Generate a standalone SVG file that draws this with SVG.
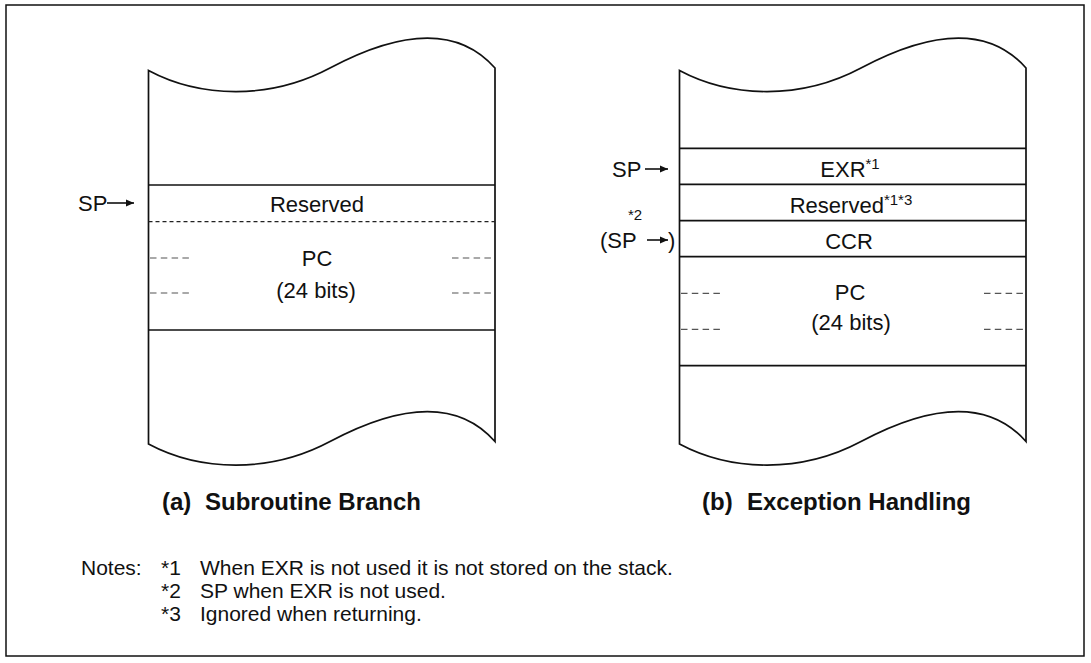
<svg xmlns="http://www.w3.org/2000/svg" width="1091" height="663" viewBox="0 0 1091 663">
<defs>
<style>
.ln{fill:none;stroke:#111;stroke-width:1.7}
.dl{fill:none;stroke:#222;stroke-width:1.2;stroke-dasharray:4 3}
.sd{fill:none;stroke:#555;stroke-width:1.2;stroke-dasharray:6.5 4.3}
.t{font-family:"Liberation Sans",Arial,sans-serif;font-size:22px;fill:#111}
.n{font-family:"Liberation Sans",Arial,sans-serif;font-size:21px;fill:#111}
.c{text-anchor:middle}
.sup{font-size:15px}
.cap{font-family:"Liberation Sans",Arial,sans-serif;font-size:24px;font-weight:bold;fill:#111}
.ar{fill:none;stroke:#111;stroke-width:1.6}
</style>
<marker id="ah" markerUnits="userSpaceOnUse" markerWidth="9" markerHeight="8" refX="8" refY="4" orient="auto">
<path d="M0,0.5 L8,4 L0,7.5 Z" fill="#111"/>
</marker>
<path id="column" d="M148.5,70.5 C200,98 270,100 330,68 C380,41.3 450,17 495,68 L495,441.5 C450,390.5 380,414.8 330,441.5 C270,473.5 200,471.5 148.5,444 Z"/>
</defs>
<rect x="6" y="5" width="1078" height="651" fill="#fff" stroke="#111" stroke-width="1.5"/>

<g id="stack-a">
<use href="#column" class="ln"/>
<line class="ln" x1="148.5" y1="185" x2="495" y2="185"/>
<line class="dl" x1="148.5" y1="221.7" x2="495" y2="221.7"/>
<line class="ln" x1="148.5" y1="330" x2="495" y2="330"/>
<g id="a-reserved"><text class="t c" x="317" y="212">Reserved</text></g>
<g id="a-pc">
<text class="t c" x="317" y="266">PC</text>
<text class="t c" x="316" y="298">(24 bits)</text>
<line class="sd" x1="150" y1="258" x2="189" y2="258"/>
<line class="sd" x1="150" y1="293" x2="189" y2="293"/>
<line class="sd" x1="452" y1="258" x2="491" y2="258"/>
<line class="sd" x1="452" y1="293" x2="491" y2="293"/>
</g>
<g id="a-sp"><text class="t" x="78" y="211">SP</text></g>
<g id="cap-a"><text class="cap" x="162" y="510">(a)</text><text class="cap" x="205" y="510">Subroutine Branch</text></g>
</g>

<g id="stack-b">
<use href="#column" class="ln" transform="translate(531,0)"/>
<line class="ln" x1="679.5" y1="148.3" x2="1026" y2="148.3"/>
<line class="ln" x1="679.5" y1="184.3" x2="1026" y2="184.3"/>
<line class="ln" x1="679.5" y1="220.7" x2="1026" y2="220.7"/>
<line class="ln" x1="679.5" y1="256.7" x2="1026" y2="256.7"/>
<line class="ln" x1="679.5" y1="365.7" x2="1026" y2="365.7"/>
<g id="b-exr"><text class="t c" x="850" y="177">EXR<tspan class="sup" dy="-8">*1</tspan></text></g>
<g id="b-reserved"><text class="t c" x="851" y="213">Reserved<tspan class="sup" dy="-8">*1*3</tspan></text></g>
<g id="b-ccr"><text class="t c" x="849" y="249">CCR</text></g>
<g id="b-pc">
<text class="t c" x="850" y="300">PC</text>
<text class="t c" x="851" y="330">(24 bits)</text>
<line class="sd" x1="681" y1="293.3" x2="720" y2="293.3"/>
<line class="sd" x1="681" y1="329.3" x2="720" y2="329.3"/>
<line class="sd" x1="984" y1="293.3" x2="1023" y2="293.3"/>
<line class="sd" x1="984" y1="329.3" x2="1023" y2="329.3"/>
</g>
<g id="b-sp"><text class="t" x="612" y="177">SP</text></g>
<g id="b-sp2">
<text class="t sup" x="628" y="220">*2</text>
<text class="t" x="600" y="248">(SP</text>
<text class="t" x="668" y="248">)</text>
</g>
<g id="cap-b"><text class="cap" x="702" y="510">(b)</text><text class="cap" x="747" y="510">Exception Handling</text></g>
</g>

<g id="connectors">
<line class="ar" x1="107" y1="203" x2="134" y2="203" marker-end="url(#ah)"/>
<line class="ar" x1="645" y1="169" x2="668" y2="169" marker-end="url(#ah)"/>
<line class="ar" x1="647" y1="240" x2="668" y2="240" marker-end="url(#ah)"/>
</g>

<g id="notes">
<text class="n" x="81" y="575">Notes:</text>
<text class="n" x="161" y="575">*1</text>
<text class="n" x="200" y="575">When EXR is not used it is not stored on the stack.</text>
<text class="n" x="161" y="598">*2</text>
<text class="n" x="200" y="598">SP when EXR is not used.</text>
<text class="n" x="161" y="621">*3</text>
<text class="n" x="200" y="621">Ignored when returning.</text>
</g>
</svg>
